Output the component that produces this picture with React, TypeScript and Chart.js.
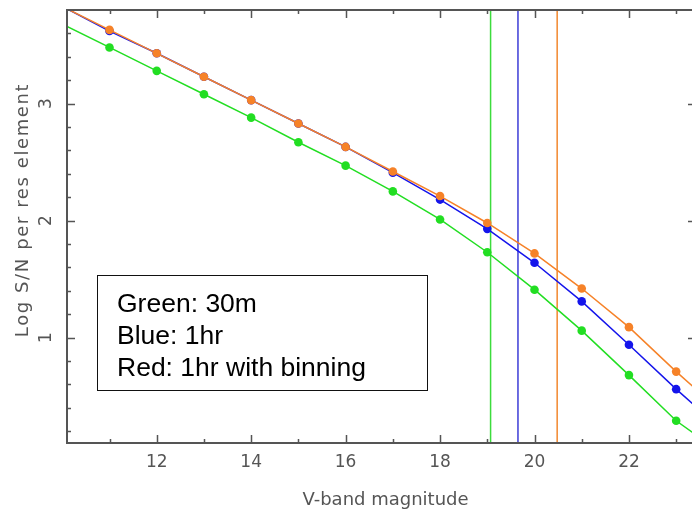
import { useEffect, useRef } from "react";
import { Chart, registerables } from "chart.js";

Chart.register(...registerables);

// ---- data ----
const MAGNITUDES = [11, 12, 13, 14, 15, 16, 17, 18, 19, 20, 21, 22, 23];
const GREEN_SN = [3.48, 3.28, 3.08, 2.88, 2.67, 2.47, 2.25, 2.01, 1.73, 1.41, 1.06, 0.68, 0.29];
const BLUE_SN = [3.62, 3.43, 3.23, 3.03, 2.83, 2.63, 2.41, 2.18, 1.93, 1.64, 1.31, 0.94, 0.56];
const ORANGE_SN = [3.63, 3.43, 3.23, 3.03, 2.83, 2.63, 2.42, 2.21, 1.98, 1.72, 1.42, 1.09, 0.71];
// curve values where the lines leave the frame (left edge, right edge)
const GREEN_EDGE = [3.66, 0.17];
const BLUE_EDGE = [3.81, 0.41];
const ORANGE_EDGE = [3.81, 0.56];
// vertical limit magnitudes: green, blue, orange
const LIMIT_MAGS = [19.07, 19.65, 20.48];

const X_MIN = 10.1;
const X_MAX = 23.42;
const Y_MIN = 0.1;
const Y_MAX = 3.8;

const X_MAJOR = [12, 14, 16, 18, 20, 22];
const X_MINOR = [11, 13, 15, 17, 19, 21, 23];
const Y_MAJOR = [1, 2, 3];
const Y_MINOR = [0.2, 0.4, 0.6, 0.8, 1.2, 1.4, 1.6, 1.8, 2.2, 2.4, 2.6, 2.8, 3.2, 3.4, 3.6];

const X_TITLE = "V-band magnitude";
const Y_TITLE = "Log S/N per res element";
const LEGEND_LINES = ["Green: 30m", "Blue: 1hr", "Red: 1hr with binning"];

const GREEN = "rgb(34,222,34)";
const BLUE = "rgb(20,20,235)";
const ORANGE = "rgb(246,130,40)";

export default function App() {
  const ref = useRef<HTMLCanvasElement>(null);

  useEffect(() => {
    const canvas = ref.current;
    if (!canvas) return;

    const series = (ys: number[], edge: number[]) => [
      { x: X_MIN, y: edge[0] },
      ...MAGNITUDES.map((m, i) => ({ x: m, y: ys[i] })),
      { x: X_MAX, y: edge[1] },
    ];
    const radii = [0, ...MAGNITUDES.map(() => 4.3), 0];
    const vline = (m: number) => [
      { x: m, y: Y_MIN },
      { x: m, y: Y_MAX },
    ];

    const framePlugin = {
      id: "frame",
      afterDraw(chart: any) {
        const ctx = chart.ctx as CanvasRenderingContext2D;
        const { left, right, top, bottom } = chart.chartArea;
        const xs = chart.scales.x;
        const ys = chart.scales.y;
        ctx.save();
        // frame
        ctx.strokeStyle = "#555";
        ctx.lineWidth = 2;
        ctx.strokeRect(left, top, right - left, bottom - top);
        // ticks (inward)
        ctx.lineWidth = 1.5;
        const xt = (v: number, len: number) => {
          const p = Math.round(xs.getPixelForValue(v)) + 0.5;
          ctx.beginPath();
          ctx.moveTo(p, bottom);
          ctx.lineTo(p, bottom - len);
          ctx.moveTo(p, top);
          ctx.lineTo(p, top + len);
          ctx.stroke();
        };
        const yt = (v: number, len: number) => {
          const p = Math.round(ys.getPixelForValue(v)) + 0.5;
          ctx.beginPath();
          ctx.moveTo(left, p);
          ctx.lineTo(left + len, p);
          ctx.moveTo(right, p);
          ctx.lineTo(right - len, p);
          ctx.stroke();
        };
        X_MAJOR.forEach((v) => xt(v, 8));
        X_MINOR.forEach((v) => xt(v, 4));
        Y_MAJOR.forEach((v) => yt(v, 8));
        Y_MINOR.forEach((v) => yt(v, 4));

        // tick labels
        ctx.fillStyle = "#555";
        ctx.font = "17px 'DejaVu Sans'";
        ctx.textAlign = "center";
        ctx.textBaseline = "middle";
        X_MAJOR.forEach((v) => {
          ctx.fillText(String(v), xs.getPixelForValue(v), 463);
        });
        Y_MAJOR.forEach((v) => {
          ctx.save();
          ctx.translate(47, ys.getPixelForValue(v));
          ctx.rotate(-Math.PI / 2);
          ctx.fillText(String(v), 0, 0);
          ctx.restore();
        });

        // titles
        ctx.font = "18px 'DejaVu Sans'";
        ctx.textBaseline = "alphabetic";
        ctx.fillText(X_TITLE, (left + right) / 2 + 4, 505);
        ctx.save();
        ctx.translate(28, 210);
        ctx.rotate(-Math.PI / 2);
        (ctx as any).letterSpacing = "1.6px";
        ctx.fillText(Y_TITLE, 0, 0);
        ctx.restore();

        // legend box
        ctx.fillStyle = "#fff";
        ctx.fillRect(97.5, 275.5, 330, 115);
        ctx.strokeStyle = "#111";
        ctx.lineWidth = 1;
        ctx.strokeRect(97.5, 275.5, 330, 115);
        ctx.fillStyle = "#000";
        ctx.font = "26.5px 'Liberation Sans', Arial, sans-serif";
        ctx.textAlign = "left";
        LEGEND_LINES.forEach((t, i) => {
          ctx.fillText(t, 117, 312 + i * 32);
        });
        ctx.restore();
      },
    };

    const chart = new Chart(canvas, {
      type: "scatter",
      data: {
        datasets: [
          {
            label: "Red: 1hr with binning",
            data: series(ORANGE_SN, ORANGE_EDGE),
            showLine: true,
            borderColor: ORANGE,
            backgroundColor: ORANGE,
            borderWidth: 1.5,
            pointRadius: radii,
            pointBorderWidth: 0,
            order: 0,
            clip: 0,
          },
          {
            label: "Blue: 1hr",
            data: series(BLUE_SN, BLUE_EDGE),
            showLine: true,
            borderColor: BLUE,
            backgroundColor: BLUE,
            borderWidth: 1.5,
            pointRadius: radii,
            pointBorderWidth: 0,
            order: 1,
            clip: 0,
          },
          {
            label: "Green: 30m",
            data: series(GREEN_SN, GREEN_EDGE),
            showLine: true,
            borderColor: GREEN,
            backgroundColor: GREEN,
            borderWidth: 1.5,
            pointRadius: radii,
            pointBorderWidth: 0,
            order: 2,
            clip: 0,
          },
          {
            label: "green limit",
            data: vline(LIMIT_MAGS[0]),
            showLine: true,
            borderColor: "rgb(60,220,60)",
            borderWidth: 1.5,
            pointRadius: 0,
            order: 3,
            clip: 0,
          },
          {
            label: "blue limit",
            data: vline(LIMIT_MAGS[1]),
            showLine: true,
            borderColor: "rgb(60,60,215)",
            borderWidth: 1.5,
            pointRadius: 0,
            order: 3,
            clip: 0,
          },
          {
            label: "orange limit",
            data: vline(LIMIT_MAGS[2]),
            showLine: true,
            borderColor: "rgb(242,135,45)",
            borderWidth: 1.5,
            pointRadius: 0,
            order: 3,
            clip: 0,
          },
        ],
      },
      options: {
        animation: false,
        responsive: false,
        devicePixelRatio: 1,
        layout: { padding: { left: 0, top: 10, right: 4, bottom: 0 } },
        plugins: { legend: { display: false }, tooltip: { enabled: false } },
        scales: {
          x: {
            type: "linear",
            min: X_MIN,
            max: X_MAX,
            grid: { display: false },
            border: { display: false },
            ticks: { display: false },
            afterFit(scale: any) {
              scale.height = 66;
            },
          },
          y: {
            type: "linear",
            min: Y_MIN,
            max: Y_MAX,
            grid: { display: false },
            border: { display: false },
            ticks: { display: false },
            afterFit(scale: any) {
              scale.width = 67;
            },
          },
        },
      },
      plugins: [framePlugin],
    } as any);

    return () => chart.destroy();
  }, []);

  return (
    <div
      style={{
        position: "fixed",
        left: 0,
        top: 0,
        width: 692,
        height: 509,
        overflow: "hidden",
        background: "#fff",
      }}
    >
      <canvas ref={ref} width={700} height={509} style={{ display: "block" }} />
    </div>
  );
}
